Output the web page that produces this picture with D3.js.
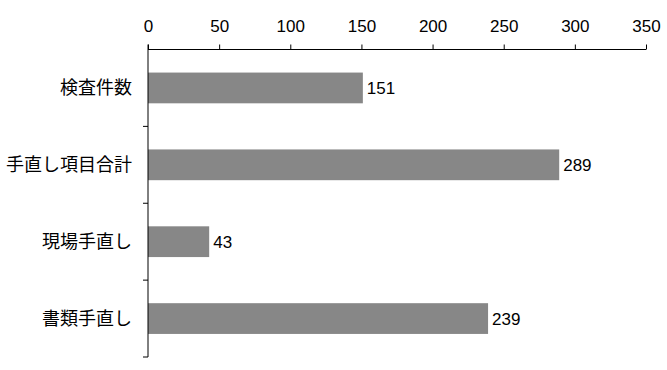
<!DOCTYPE html>
<html><head><meta charset="utf-8">
<script src="https://cdn.jsdelivr.net/npm/d3@7"></script>
<style>
html,body{margin:0;padding:0;background:#fff;}
svg{display:block;}
.num{font-family:"Liberation Sans",Arial,sans-serif;font-size:17px;fill:#000;}
.cat{font-family:"Noto Sans CJK JP",sans-serif;font-size:18px;fill:#000;}
</style>
</head><body>
<svg id="chart" width="667" height="370"></svg>
<script>
(function(){
const categories = ["検査件数", "手直し項目合計", "現場手直し", "書類手直し"];
const values = [151, 289, 43, 239];
const tickValues = [0, 50, 100, 150, 200, 250, 300, 350];

const svg = d3.select("#chart");
const mLeft = 148, mRight = 646, mTop = 49.5, mBottom = 357;

const x = d3.scaleLinear().domain([0, 350]).range([mLeft, mRight]);
const y = d3.scaleBand().domain(categories).range([mTop, mBottom]).paddingInner(0.6).paddingOuter(0.3);

// bars
svg.selectAll("rect.bar").data(values).enter().append("rect")
  .attr("x", x(0))
  .attr("y", (d, i) => y(categories[i]))
  .attr("width", d => x(d) - x(0))
  .attr("height", y.bandwidth())
  .attr("fill", "#878787");

// value labels
svg.selectAll("text.val").data(values).enter().append("text")
  .attr("class", "num")
  .attr("x", d => x(d) + 4)
  .attr("y", (d, i) => y(categories[i]) + y.bandwidth() / 2)
  .attr("dy", "0.36em")
  .text(d => d);

// x axis on top
const xAxis = svg.append("g").attr("transform", `translate(0,${mTop})`)
  .call(d3.axisTop(x).tickValues(tickValues).tickSize(5).tickPadding(13).tickFormat(d3.format("d")));
xAxis.select(".domain").attr("d", `M${mLeft},0H${mRight}`).attr("stroke", "#000");
xAxis.selectAll(".tick line").attr("stroke", "#000");
xAxis.attr("font-family", null).attr("font-size", null);
xAxis.selectAll("text").attr("class", "num");

// y axis: band boundary ticks
const yb = d3.scaleLinear().domain([0, categories.length]).range([mTop, mBottom]);
const yAxisG = svg.append("g").attr("transform", `translate(${mLeft},0)`);
yAxisG.append("line").attr("x1", 0).attr("x2", 0).attr("y1", mTop - 5).attr("y2", mBottom).attr("stroke", "#000");
yAxisG.selectAll("line.t").data(d3.range(1, categories.length + 1)).enter().append("line")
  .attr("x1", -5).attr("x2", 0)
  .attr("y1", d => yb(d)).attr("y2", d => yb(d)).attr("stroke", "#000");

// category labels
svg.selectAll("text.cat").data(categories).enter().append("text")
  .attr("class", "cat")
  .attr("x", mLeft - 16)
  .attr("y", d => y(d) + y.bandwidth() / 2)
  .attr("dy", "0.36em")
  .attr("text-anchor", "end")
  .text(d => d);
})();
</script>
</body></html>
